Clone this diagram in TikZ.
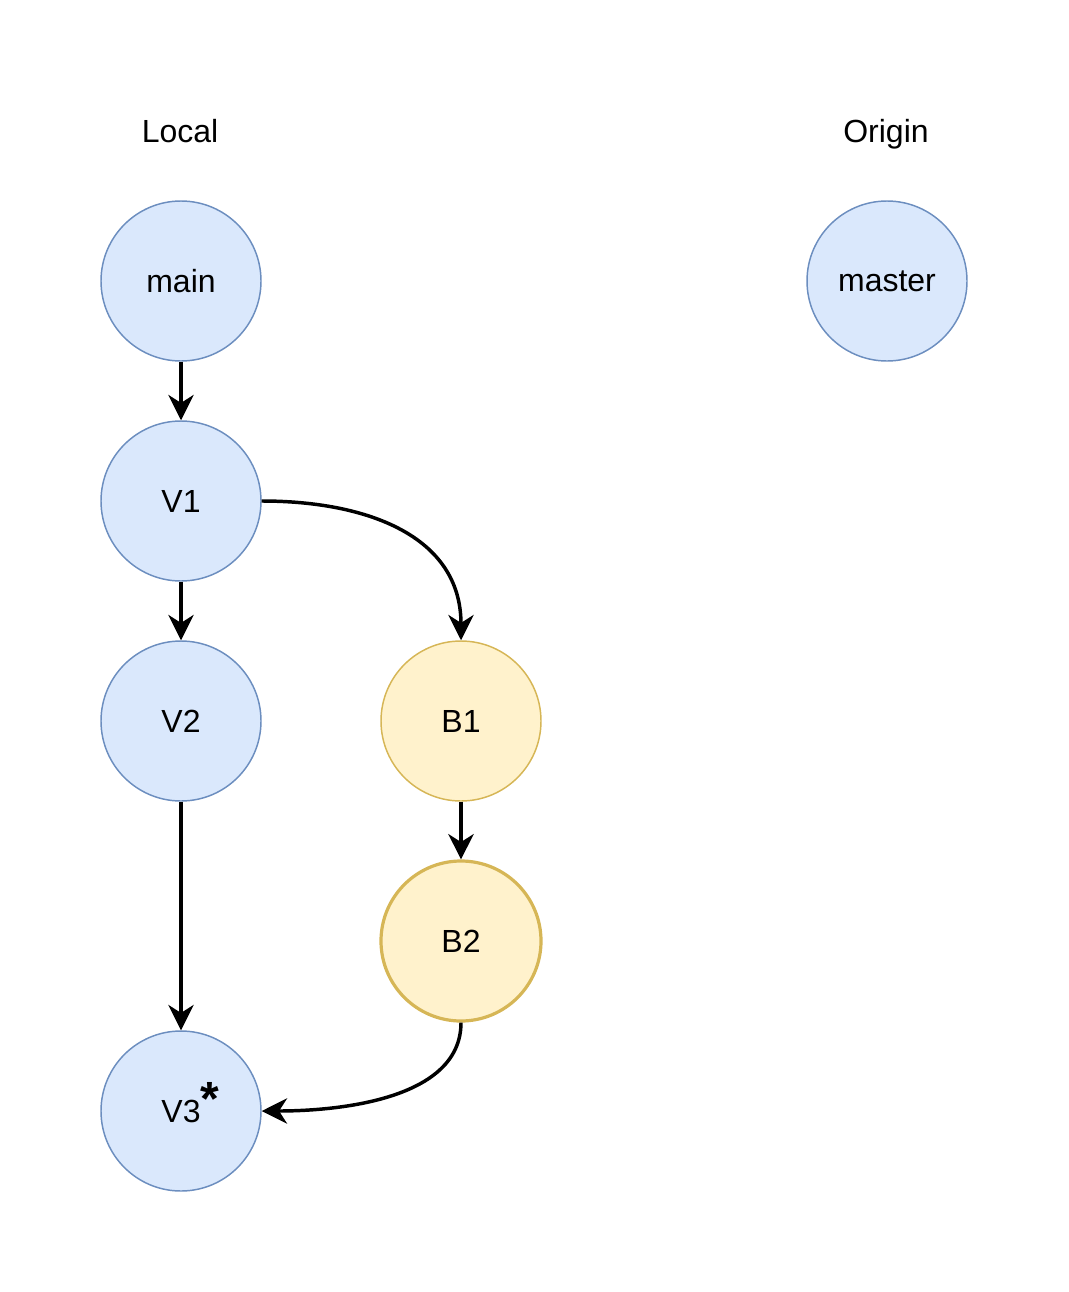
\documentclass[tikz,border=0pt]{standalone}
\usepackage{fontspec}
\setmainfont{Liberation Sans}
\usetikzlibrary{arrows.meta}

\definecolor{bluefill}{HTML}{DAE8FC}
\definecolor{bluedraw}{HTML}{6C8EBF}
\definecolor{yellowfill}{HTML}{FFF2CC}
\definecolor{yellowdraw}{HTML}{D6B656}

\begin{document}
\begin{tikzpicture}[x=0.75pt, y=-0.75pt, font=\fontsize{24}{26}\selectfont,
        commit/.style={circle, draw=bluedraw, fill=bluefill, line width=1.1pt, minimum size=120pt, inner sep=0pt},
        branch/.style={commit, draw=yellowdraw, fill=yellowfill},
        link/.style={-{Stealth[length=19pt, width=19pt, inset=6pt]}, line width=2.6pt}]
        \useasboundingbox (0,0) rectangle (1068,1292);

        \node[anchor=base] (L) at (180,142) {Local};
        \node[anchor=base] (O) at (886,142) {Origin};

        \node[commit] (M) at (181,281) {main};
        \node[commit] (V1) at (181,501) {V1};
        \node[commit] (V2) at (181,721) {V2};
        \node[commit] (V3) at (181,1111) {V3\rlap{\smash{\raisebox{5pt}{\fontsize{36}{36}\selectfont\bfseries *}}}};

        \node[branch] (B1) at (461,721) {B1};
        \node[branch, line width=2.4pt] (B2) at (461,941) {B2};

        \node[commit] (R) at (887,281) {master};

        \foreach \a/\b in {M/V1, V1/V2, V2/V3, B1/B2}
          \draw[link] (\a) -- (\b);

        \draw[link] (V1.east) to[out=0, in=90, looseness=1.1] (B1.north);
        \draw[link] (B2.south) to[out=-90, in=0, looseness=0.9] (V3.east);
      \end{tikzpicture}
\end{document}
